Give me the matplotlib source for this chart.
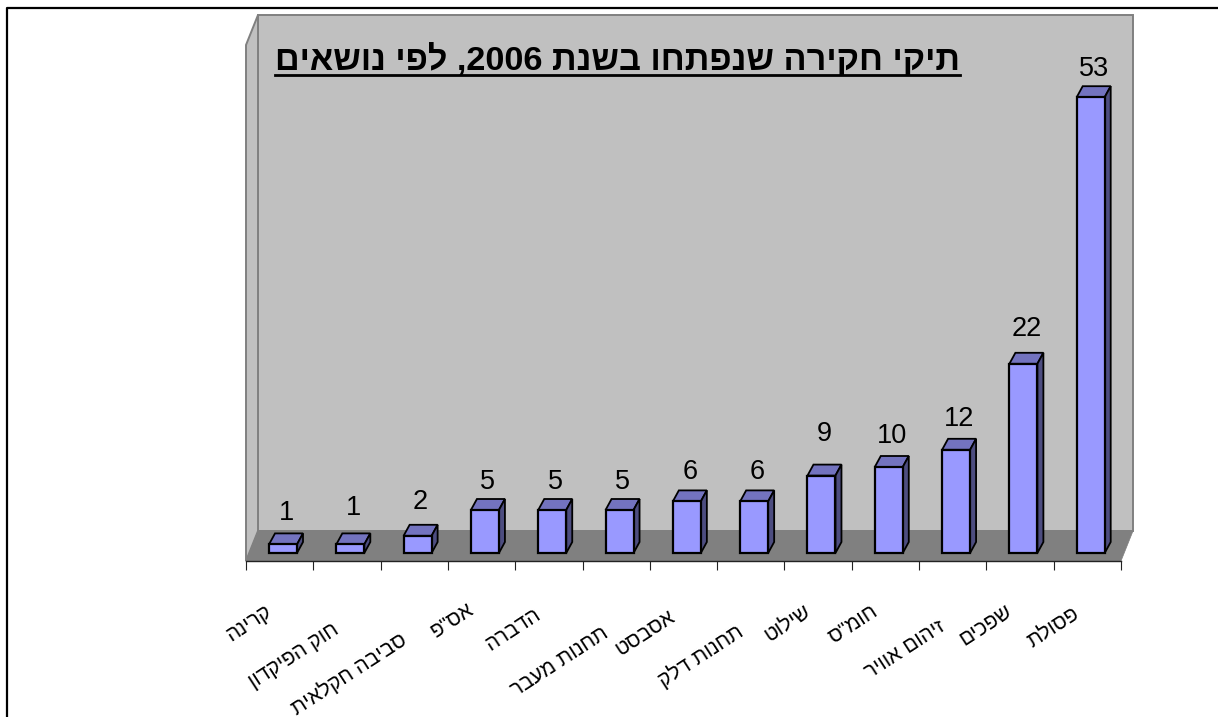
import re
import matplotlib
matplotlib.use("Agg")
import matplotlib.pyplot as plt
from matplotlib.lines import Line2D
from matplotlib.patches import Polygon

plt.rcParams["font.family"] = ["Liberation Sans", "DejaVu Sans"]

categories = ["קרינה", "חוק הפיקדון", "סביבה חקלאית", 'אס"פ', "הדברה", "תחנות מעבר", "אסבסט",
              "תחנות דלק", "שילוט", 'חומ"ס', "זיהום אוויר", "שפכים", "פסולת"]
values = [1, 1, 2, 5, 5, 5, 6, 6, 9, 10, 12, 22, 53]
title = "תיקי חקירה שנפתחו בשנת 2006, לפי נושאים"

# nudges in pixels, the original labels are not placed very regularly
value_nudge = [31, 36, 34, 28, 28, 28, 29, 29, 42, 31, 31, 35, 28]
label_drop = [49, 67, 77, 47, 52, 71, 54, 69, 49, 49, 64, 49, 51]

W, H = 1218, 717
PX_X = 67.3
PX_Y = 8.6
DEPTH_X = 6 / PX_X
DEPTH_Y = 11 / PX_Y
BAR_W = 28 / PX_X
FLOOR = -8 / PX_Y
TOP = 538 / PX_Y
WALL_DX = 12 / PX_X
WALL_DY = 30 / PX_Y


def visual(s):
    # matplotlib has no bidi, so flip the text and put the numbers back
    return re.sub(r"\d+", lambda m: m.group()[::-1], s[::-1])


fig = plt.figure(figsize=(W / 100, H / 100), dpi=100)
ax = fig.add_axes([246 / W, 1 - 561 / H, 875 / W, 546 / H])
ax.set_xlim(0, 13)
ax.set_ylim(FLOOR, TOP)
ax.patch.set_visible(False)
for side in ["top", "left", "right"]:
    ax.spines[side].set_visible(False)
ax.spines["bottom"].set_linewidth(1.0)
ax.spines["bottom"].set_color("#222222")
ax.spines["bottom"].set_zorder(6)
ax.set_yticks([])
ax.set_xticks(range(14))
ax.set_xticklabels([])
ax.tick_params(axis="x", length=6.5, width=0.8, color="#222222")

# walls and floor
back = WALL_DY + FLOOR
ax.add_patch(Polygon([(WALL_DX * 1.0, back), (13 + WALL_DX, back), (13 + WALL_DX, TOP), (WALL_DX, TOP)],
                     fc="#C0C0C0", ec="#808080", lw=1.4, clip_on=False, zorder=1))
ax.add_patch(Polygon([(0, FLOOR), (WALL_DX, back), (WALL_DX, TOP), (0, TOP - WALL_DY)],
                     fc="#C0C0C0", ec="#808080", lw=1.4, clip_on=False, zorder=1))
ax.add_patch(Polygon([(0, FLOOR), (13, FLOOR), (13 + WALL_DX, back), (WALL_DX, back)],
                     fc="#808080", ec="#808080", lw=0.5, clip_on=False, zorder=2))

centers = [i + 37 / PX_X for i in range(len(values))]
ax.bar(centers, values, width=BAR_W, color="#9999FF", edgecolor="black", linewidth=1.6, zorder=4)

for x, v in zip(centers, values):
    left, right = x - BAR_W / 2, x + BAR_W / 2
    ax.add_patch(Polygon([(left, v), (right, v), (right + DEPTH_X, v + DEPTH_Y), (left + DEPTH_X, v + DEPTH_Y)],
                         fc="#7373BF", ec="black", lw=1.3, clip_on=False, zorder=3))
    ax.add_patch(Polygon([(right, 0), (right + DEPTH_X, DEPTH_Y), (right + DEPTH_X, v + DEPTH_Y), (right, v)],
                         fc="#4D4D80", ec="black", lw=1.3, clip_on=False, zorder=3))

for x, v, up in zip(centers, values, value_nudge):
    ax.annotate(str(v), (x, v), xytext=(3, up), textcoords="offset pixels", ha="center", va="center",
                fontsize=19.5, color="black", zorder=7, annotation_clip=False)

for x, name, drop in zip(centers, categories, label_drop):
    ax.annotate(visual(name), (x, FLOOR), xytext=(-13, -drop), textcoords="offset pixels", ha="right", va="center",
                rotation=33, rotation_mode="anchor", fontsize=15, color="black", annotation_clip=False)

t = ax.annotate(visual(title), (960 / W, 1 - 60 / H), xycoords="figure fraction", ha="right", va="center",
                fontsize=24.7, fontweight="bold", color="black", zorder=7, annotation_clip=False)
fig.canvas.draw()
box = t.get_window_extent()
fig.add_artist(Line2D([box.x0 / W, box.x1 / W], [1 - 75 / H, 1 - 75 / H], color="black", lw=2, zorder=8))

# page frame
fig.add_artist(Line2D([7 / W, 7 / W, 1], [0, 1 - 8 / H, 1 - 8 / H], color="black", lw=1.6))

fig.savefig("out.png", dpi=100, facecolor="white")
